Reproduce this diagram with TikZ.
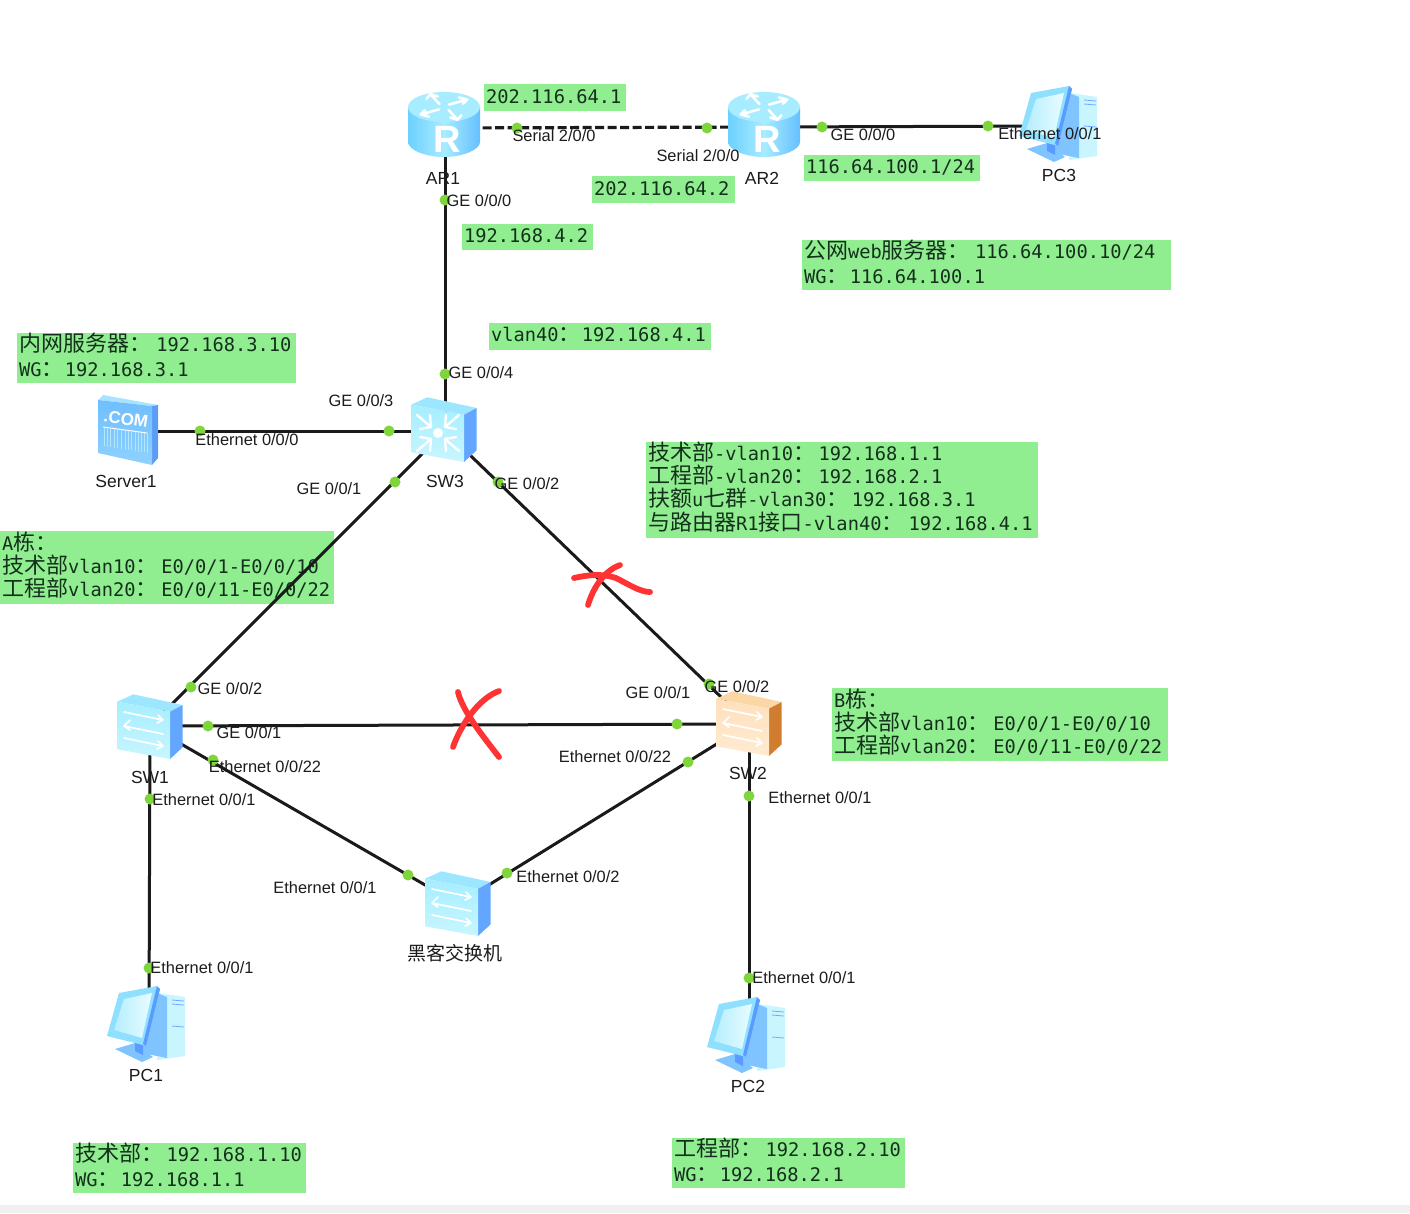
\documentclass[tikz,border=0pt]{standalone}
\usepackage{fontspec}
\setmainfont{Liberation Sans}
\newfontfamily\cjkf{Noto Sans CJK SC}
\newfontfamily\monof{DejaVu Sans Mono}
\newcommand{\cj}[1]{{\cjkf\fontsize{22}{22}\selectfont #1}}
\newcommand{\ck}{\cj{：}\hspace{5.2pt}}
\newcommand{\cl}{\cj{：}\hspace{3.5pt}}
\newcommand{\cm}{\cj{：}\hspace{1.2pt}}
\definecolor{gbg}{HTML}{90EE90}
\definecolor{dot}{HTML}{7FD63C}
\definecolor{wire}{HTML}{1A1A1A}
\definecolor{inkc}{HTML}{1C1C1C}
\definecolor{monoc}{HTML}{14301C}
\definecolor{redx}{HTML}{FF3333}
\definecolor{rtl}{HTML}{6ED0FF}
\definecolor{rtm}{HTML}{A8ECFF}
\definecolor{rtr}{HTML}{66BFFF}
\definecolor{rtt}{HTML}{A8ECFF}
\definecolor{cyf}{HTML}{C8F6FF}
\definecolor{cyb}{HTML}{A6EEFF}
\definecolor{cyt}{HTML}{9CE6FF}
\definecolor{cys}{HTML}{62A6FF}
\definecolor{orf}{HTML}{FFEBD2}
\definecolor{orb}{HTML}{FFE0BC}
\definecolor{ort}{HTML}{FCD7A6}
\definecolor{ors}{HTML}{D07D30}
\definecolor{srvt}{HTML}{A8E4FF}
\definecolor{srvf}{HTML}{6FBEFF}
\definecolor{srvg}{HTML}{8FD2FF}
\definecolor{srvs}{HTML}{5C9CF8}
\definecolor{pctw}{HTML}{C9F5FF}
\definecolor{pcpn}{HTML}{7FC4FF}
\definecolor{pcbd}{HTML}{5A9BFF}
\definecolor{pcot}{HTML}{8FDFFF}
\definecolor{pcsa}{HTML}{B6EEFF}
\definecolor{pcsb}{HTML}{E8FCFF}
\tikzset{
  x=1pt,y=-1pt,
  gbox/.style={fill=gbg,anchor=north west,inner sep=0pt},
  gtext/.style={anchor=west,inner sep=0pt,align=left,text=monoc,xshift=2pt},
  wireline/.style={draw=wire,line width=3pt},
  serialline/.style={draw=wire,line width=3.2pt,dash pattern=on 9pt off 3.5pt},
  port/.style={circle,fill=dot,inner sep=0pt,minimum size=11pt},
  plabel/.style={inner sep=0pt,text=inkc,font=\fontsize{16.4}{18}\selectfont},
  dlabel/.style={inner sep=0pt,text=inkc,font=\fontsize{17.5}{20}\selectfont},
  redmark/.style={draw=redx,line width=5.8pt,line cap=round,line join=round},
  arrowline/.style={draw=white,line width=1.7pt,line cap=round},
  pics/routericon/.style={code={
    \path[left color=rtl,right color=rtr,middle color=rtm]
      (-36,-18) -- (-36,17) .. controls (-36,25) and (-18,32) .. (0,32) .. controls (18,32) and (36,25) .. (36,17) -- (36,-18) -- cycle;
    \path[fill=rtt] (0,-18) ellipse[x radius=36pt,y radius=15pt];
    \begin{scope}[shift={(0,-18)},yscale=.55]
    \foreach \a in {15,105,195,285}{
      \draw[arrowline,rotate=\a,line width=2.6pt] (6,-3) -- (26,-7) (26,-7) -- (19,-13) (26,-7) -- (20,-1);
    }
    \end{scope}
    \node[text=white,inner sep=0pt,font=\bfseries\fontsize{38}{38}\selectfont] at (3,14) {R};
  }},
  pics/switchbody/.style n args={4}{code={
    \path[fill=#3] (-32.7,-25.3) -- (-16.7,-32.7) -- (32.7,-22) -- (20,-15.3) -- cycle;
    \path[fill=#4] (20,-15.3) -- (32.7,-22) -- (32.7,20.3) -- (20,32) -- cycle;
    \path[top color=#2,bottom color=#1] (-32.7,-25.3) -- (20,-15.3) -- (20,32) -- (-32.7,22.3) -- cycle;
  }},
  pics/swarrows/.style={code={
    \draw[arrowline] (-26,-15) -- (13,-7) (13,-7) -- (8,-12) (13,-7) -- (7,-4);
    \draw[arrowline] (13,7) -- (-26,-1) (-26,-1) -- (-20,-7) (-26,-1) -- (-20,3);
    \draw[arrowline] (-26,11) -- (13,19) (13,19) -- (8,14) (13,19) -- (7,22);
  }},
  pics/corearrows/.style={code={
    \fill[white] (-6,3) ellipse[x radius=5pt,y radius=5pt];
    \foreach \sx/\sy in {-1/-1,1/-1,-1/1,1/1}{
      \draw[arrowline,line width=2.4pt] (-6+\sx*7,3+\sy*6) -- (-6+\sx*21,3+\sy*18);
      \draw[arrowline,line width=2.4pt] (-6+\sx*7,3+\sy*6) -- (-6+\sx*18,3+\sy*4);
      \draw[arrowline,line width=2.4pt] (-6+\sx*7,3+\sy*6) -- (-6+\sx*8,3+\sy*18);
    }
  }},
  pics/servericon/.style={code={
    \path[fill=srvt] (-30,-30) -- (-25,-35) -- (30,-25) -- (24,-24) -- cycle;
    \path[fill=srvs] (24,-24) -- (30,-25) -- (30,28) -- (24,35) -- cycle;
    \path[top color=srvf,bottom color=srvg] (-30,-30) -- (24,-24) -- (24,35) -- (-30,23) -- cycle;
    \node[text=white,inner sep=0pt,rotate=-8,font=\bfseries\fontsize{17}{17}\selectfont] at (-2,-11) {.COM};
    \draw[white,line width=1pt] (-25,-3) -- (19,3);
    \foreach \i in {-24,-21,-18,-14,-11,-7,-3,0,3,7,10,13,16,19}{
      \draw[white!70!cyan,line width=1pt] (\i,1+\i*0.12) -- (\i,20+\i*0.15);
    }
  }},
  pics/pcicon/.style={code={
    \path[fill=pctw] (9,-31) -- (36,-27) -- (36,32) -- (8,36) -- cycle;
    \path[fill=pcpn] (8,-31) -- (18,-27) -- (18,34) -- (-12,28) -- cycle;
    \draw[cyb!70!blue,line width=.8pt] (23,-24) -- (35,-23) (23,-20) -- (35,-19) (23,2) -- (35,3);
    \path[fill=pcpn] (-34,25) -- (-14,19) -- (4,33) -- (-7,38) -- cycle;
    \path[fill=pcbd] (-14,10) -- (-6,10) -- (-6,31) -- (-14,27) -- cycle;
    \path[fill=pcot] (-42,12) -- (-30,-31) -- (8,-38) -- (11,-35) -- (-3,22) -- (-10,20) -- cycle;
    \path[fill=pcbd] (8,-38) -- (11,-35) -- (-3,22) -- (-6,20) -- cycle;
    \path[left color=pcsa,right color=pcsb] (-35,6) -- (-25,-25) -- (3,-31) -- (-7,14) -- cycle;
  }},
}
% \gnote{name}{x}{y}{w}{h}{line pitch}{yshift}{text}
\newcommand{\gnote}[8]{%
  \node[gbox,minimum width=#4pt,minimum height=#5pt] (#1) at (#2,#3) {};
  \node[gtext,yshift=#7pt,font=\fontsize{18.7}{#6}\monof] (#1t) at (#1.west) {\lineskiplimit=-20pt #8};
}
\begin{document}
\begin{tikzpicture}
\useasboundingbox (0,0) rectangle (1410,1213);
\fill[white] (0,0) rectangle (1410,1213);
\fill[black!6] (0,1205) rectangle (1410,1213);

% green note boxes
\gnote{n1}{484}{84}{142}{27}{25}{1.5}{202.116.64.1}
\gnote{n2}{592}{176}{143}{27}{25}{1.5}{202.116.64.2}
\gnote{n3}{462}{224}{131}{26}{25}{1.5}{192.168.4.2}
\gnote{n4}{804}{155}{176}{26}{25}{1}{116.64.100.1/24}
\gnote{n5}{802}{240}{369}{50}{25}{3}{\cj{公网}web\cj{服务器}\ck 116.64.100.10/24\\WG\cm 116.64.100.1}
\gnote{n6}{489}{323}{222}{27}{25}{2}{vlan40\cm 192.168.4.1}
\gnote{n7}{17}{333}{279}{50}{25}{3.3}{\cj{内网服务器}\ck 192.168.3.10\\WG\cm 192.168.3.1}
\gnote{n8}{0}{531}{334}{73}{23}{2.5}{A\cj{栋}\cl\\\cj{技术部}vlan10\cl E0/0/1-E0/0/10\\\cj{工程部}vlan20\cl E0/0/11-E0/0/22}
\gnote{n9}{646}{442}{392}{96}{23.3}{3.5}{\cj{技术部}-vlan10\cl 192.168.1.1\\\cj{工程部}-vlan20\cl 192.168.2.1\\\cj{扶额}u\cj{七群}-vlan30\cl 192.168.3.1\\\cj{与路由器}R1\cj{接口}-vlan40\ck 192.168.4.1}
\gnote{n10}{832}{688}{336}{73}{23}{2.5}{B\cj{栋}\cl\\\cj{技术部}vlan10\cl E0/0/1-E0/0/10\\\cj{工程部}vlan20\cl E0/0/11-E0/0/22}
\gnote{n11}{73}{1143}{233}{50}{25}{3}{\cj{技术部}\cl 192.168.1.10\\WG\cm 192.168.1.1}
\gnote{n12}{672}{1138}{233}{50}{25}{3}{\cj{工程部}\cl 192.168.2.10\\WG\cm 192.168.2.1}

% device centres
\coordinate (ar1) at (445,128);
\coordinate (ar2) at (764,127);
\coordinate (pc3) at (1060,126);
\coordinate (sw3) at (445,431);
\coordinate (srv) at (128,431);
\coordinate (sw1) at (150,726);
\coordinate (sw2) at (749,724);
\coordinate (hack) at (458,904);
\coordinate (pc1) at (149,1024);
\coordinate (pc2) at (749,1035);

% connectors
\draw[serialline] (ar1) -- (ar2);
\draw[wireline] (ar2) -- (pc3);
\draw[wireline] (ar1) -- (sw3);
\draw[wireline] (srv) -- (sw3);
\draw[wireline] (sw3) -- (sw1);
\draw[wireline] (sw3) -- (sw2);
\draw[wireline] (sw1) -- (sw2);
\draw[wireline] (sw1) -- (hack);
\draw[wireline] (sw2) -- (hack);
\draw[wireline] (sw1) -- (pc1);
\draw[wireline] (sw2) -- (pc2);

% devices
\pic (iar1) at (444,125) {routericon};
\pic (iar2) at (764,125) {routericon};
\pic (ipc3) at (1061,124) {pcicon};
\pic (isrv) at (128,430) {servericon};
\pic (isw3) at (444,430) {switchbody={cyf}{cyb}{cyt}{cys}};
\pic (isw3a) at (444,430) {corearrows};
\pic (isw1) at (150,727) {switchbody={cyf}{cyb}{cyt}{cys}};
\pic (isw1a) at (150,727) {swarrows};
\pic (isw2) at (749,724) {switchbody={orf}{orb}{ort}{ors}};
\pic (isw2a) at (749,724) {swarrows};
\pic (ihack) at (458,904) {switchbody={cyf}{cyb}{cyt}{cys}};
\pic (ihacka) at (458,904) {swarrows};
\pic (ipc1) at (149,1024) {pcicon};
\pic (ipc2) at (749,1035) {pcicon};

% port dots
\node[port] (d1) at (517,128) {};
\node[port] (d2) at (707,128) {};
\node[port] (d3) at (822,127) {};
\node[port] (d4) at (988,126) {};
\node[port] (d5) at (445,200) {};
\node[port] (d6) at (445,374) {};
\node[port] (d7) at (389,431) {};
\node[port] (d8) at (200,431) {};
\node[port] (d9) at (395,482) {};
\node[port] (d10) at (498,482) {};
\node[port] (d11) at (191,687) {};
\node[port] (d12) at (208,726) {};
\node[port] (d13) at (213,760) {};
\node[port] (d14) at (150,799) {};
\node[port] (d15) at (408,875) {};
\node[port] (d16) at (507,873) {};
\node[port] (d17) at (709,684) {};
\node[port] (d18) at (677,724) {};
\node[port] (d19) at (688,762) {};
\node[port] (d20) at (749,796) {};
\node[port] (d21) at (149,968) {};
\node[port] (d22) at (749,978) {};

% port labels
\node[plabel] (l1) at (554,136) {Serial 2/0/0};
\node[plabel] (l2) at (698,156) {Serial 2/0/0};
\node[plabel] (l3) at (863,135) {GE 0/0/0};
\node[plabel] (l4) at (1050,134) {Ethernet 0/0/1};
\node[plabel] (l5) at (479,201) {GE 0/0/0};
\node[plabel] (l6) at (481,373) {GE 0/0/4};
\node[plabel] (l7) at (361,401) {GE 0/0/3};
\node[plabel] (l8) at (247,440) {Ethernet 0/0/0};
\node[plabel] (l9) at (329,489) {GE 0/0/1};
\node[plabel] (l10) at (527,484) {GE 0/0/2};
\node[plabel] (l11) at (230,689) {GE 0/0/2};
\node[plabel] (l12) at (249,733) {GE 0/0/1};
\node[plabel] (l13) at (265,767) {Ethernet 0/0/22};
\node[plabel] (l14) at (204,800) {Ethernet 0/0/1};
\node[plabel] (l15) at (658,693) {GE 0/0/1};
\node[plabel] (l16) at (737,687) {GE 0/0/2};
\node[plabel] (l17) at (615,757) {Ethernet 0/0/22};
\node[plabel] (l18) at (820,798) {Ethernet 0/0/1};
\node[plabel] (l19) at (325,888) {Ethernet 0/0/1};
\node[plabel] (l20) at (568,877) {Ethernet 0/0/2};
\node[plabel] (l21) at (202,968) {Ethernet 0/0/1};
\node[plabel] (l22) at (804,978) {Ethernet 0/0/1};

% device labels
\node[dlabel] (t1) at (443,178) {AR1};
\node[dlabel] (t2) at (762,178) {AR2};
\node[dlabel] (t3) at (1059,175) {PC3};
\node[dlabel] (t4) at (126,481) {Server1};
\node[dlabel] (t5) at (445,481) {SW3};
\node[dlabel] (t6) at (150,777) {SW1};
\node[dlabel] (t7) at (748,773) {SW2};
\node[dlabel,font=\cjkf\fontsize{19}{20}\selectfont] (t8) at (455,953) {黑客交换机};
\node[dlabel] (t9) at (146,1075) {PC1};
\node[dlabel] (t10) at (748,1086) {PC2};

% red crosses
\draw[redmark] (574,578) .. controls (592,574) and (604,574) .. (616,578) .. controls (628,584) and (640,592) .. (650,592);
\draw[redmark] (620,565) .. controls (606,570) and (594,585) .. (588,605);
\draw[redmark] (458,692) .. controls (462,710) and (482,735) .. (499,757);
\draw[redmark] (499,691) .. controls (480,698) and (462,722) .. (453,747);
\end{tikzpicture}
\end{document}
